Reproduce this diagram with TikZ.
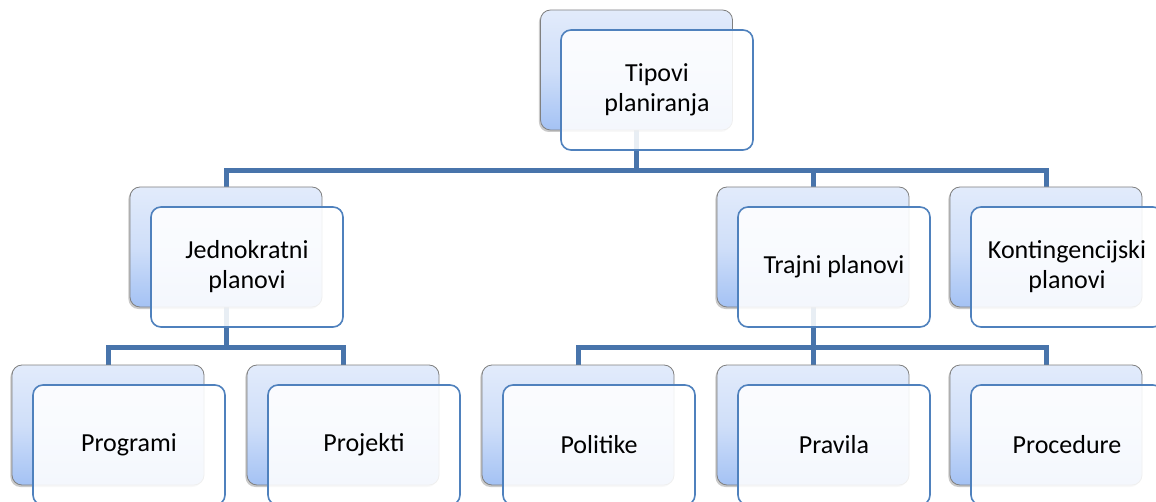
\documentclass[tikz,border=0pt]{standalone}
\usepackage{fontspec}
\setmainfont{Carlito}
\usetikzlibrary{shadows,backgrounds}
\definecolor{conncol}{HTML}{4874AB}
\definecolor{frontcol}{HTML}{4F81BD}
\definecolor{backtop}{HTML}{E2EBFB}
\definecolor{backbot}{HTML}{A4C2F4}
\tikzset{
  backbox/.style={rectangle, rounded corners=7.5pt, minimum width=144pt, minimum height=90pt,
    inner sep=0pt, draw=black!50, line width=0.6pt, top color=backtop, bottom color=backbot,
    middle color=backtop!70!backbot,
    drop shadow={shadow xshift=-1.2pt, shadow yshift=-1.5pt, opacity=0.35, fill=black!60}},
  frontbox/.style={rectangle, rounded corners=7.5pt, minimum width=144pt, minimum height=90pt,
    inner sep=0pt, draw=frontcol, line width=1.2pt, fill=white, fill opacity=0.88, text opacity=1,
    align=center, font=\fontsize{19.5}{22.5}\selectfont, text=black},
  conn/.style={draw=conncol, line width=3.75pt}
}
\begin{document}
\begin{tikzpicture}[x=0.75pt,y=-0.75pt]
\useasboundingbox (0,0) rectangle (1156,502);
\clip (0,0) rectangle (1156,502);
% back boxes
\node[backbox] (tb) at (636.5,70) {};
\node[backbox] (jb) at (226,247) {};
\node[backbox] (trb) at (813,247) {};
\node[backbox] (kb) at (1046,247) {};
\node[backbox] (prgb) at (108,425) {};
\node[backbox] (prjb) at (343,425) {};
\node[backbox] (polb) at (578,425) {};
\node[backbox] (pravb) at (813,425) {};
\node[backbox] (procb) at (1046,425) {};
% front boxes
\node[frontbox] (t) at (657,90) {Tipovi\\planiranja};
\node[frontbox] (j) at (247,267) {Jednokratni\\planovi};
\node[frontbox] (tr) at (834,267) {Trajni planovi};
\node[frontbox] (k) at (1067,267) {Kontingencijski\\planovi};
\node[frontbox] (prg) at (129,445) {Programi};
\node[frontbox] (prj) at (364,445) {Projekti};
\node[frontbox] (pol) at (599,445) {Politike};
\node[frontbox] (prav) at (834,445) {Pravila};
\node[frontbox] (proc) at (1067,445) {Procedure};
% connectors behind everything
\begin{pgfonlayer}{background}
\path[conn] (tb.south) -- ++(0,40) -| (jb.north);
\path[conn] (tb.south) -- ++(0,40) -| (trb.north);
\path[conn] (tb.south) -- ++(0,40) -| (kb.north);
\path[conn] (jb.south) -- ++(0,40) -| (prgb.north);
\path[conn] (jb.south) -- ++(0,40) -| (prjb.north);
\path[conn] (trb.south) -- ++(0,40) -| (polb.north);
\path[conn] (trb.south) -- ++(0,40) -| (pravb.north);
\path[conn] (trb.south) -- ++(0,40) -| (procb.north);
\end{pgfonlayer}
\end{tikzpicture}
\end{document}
